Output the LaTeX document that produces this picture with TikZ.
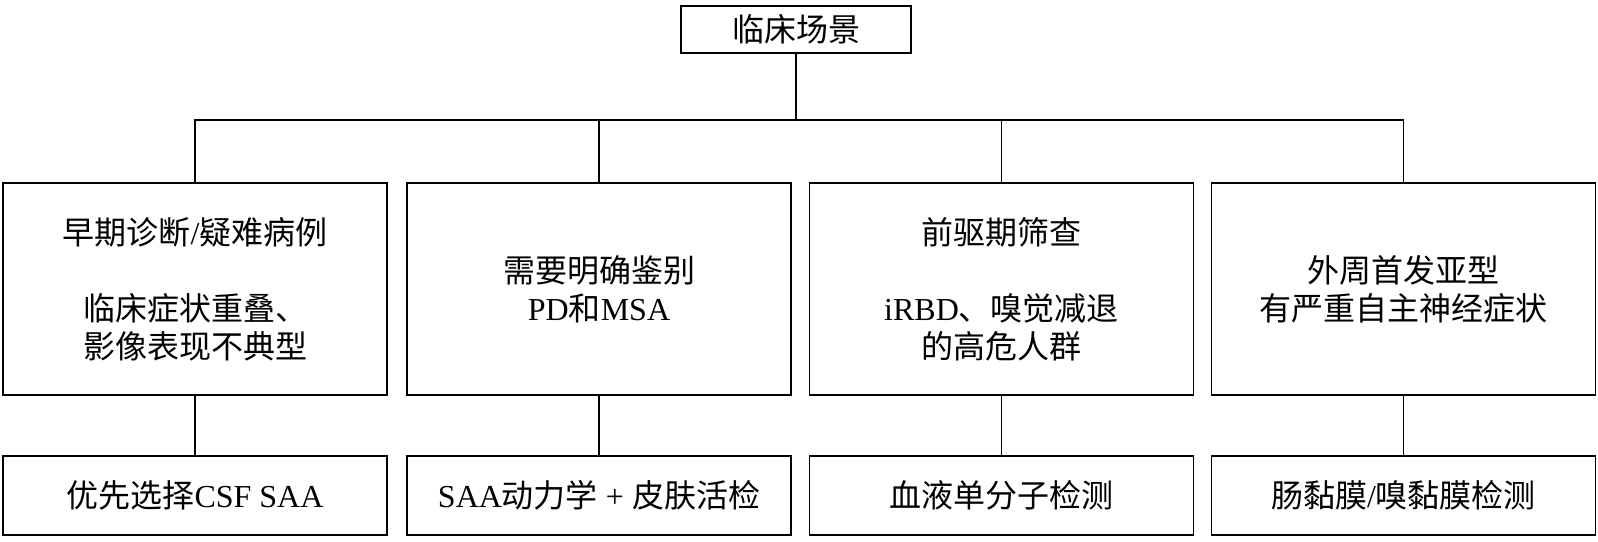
\documentclass[tikz,border=0pt]{standalone}
\usepackage{fontspec}
\setmainfont{Liberation Serif}
\newfontfamily\cjk{Noto Sans CJK SC}
\newcommand\enx[1]{{\rmfamily #1}}
\begin{document}
\begin{tikzpicture}[x=1pt,y=-1pt,
  box/.style={draw,line width=1.6pt,inner sep=0pt,align=center,
    font=\cjk\fontsize{32}{38}\selectfont},
  topbox/.style={box,minimum width=230pt,minimum height=47pt},
  midbox/.style={box,minimum width=384pt,minimum height=212pt},
  lowbox/.style={box,minimum width=384pt,minimum height=79pt},
  link/.style={line width=1.6pt}]
\useasboundingbox (0,0) rectangle (1598,541);
\node[topbox] (top) at (796,29.5) {临床场景};
\node[midbox] (b1) at (195,289) {早期诊断\enx{/}疑难病例\\[38pt]临床症状重叠、\\影像表现不典型};
\node[midbox] (b2) at (599,289) {需要明确鉴别\\\enx{PD}和\enx{MSA}};
\node[midbox] (b3) at (1001.5,289) {前驱期筛查\\[38pt]\enx{iRBD}、嗅觉减退\\的高危人群};
\node[midbox] (b4) at (1403.5,289) {外周首发亚型\\有严重自主神经症状};
\node[lowbox] (c1) at (195,495.5) {优先选择\enx{CSF SAA}};
\node[lowbox] (c2) at (599,495.5) {\enx{SAA}动力学\enx{ + }皮肤活检};
\node[lowbox] (c3) at (1001.5,495.5) {血液单分子检测};
\node[lowbox] (c4) at (1403.5,495.5) {肠黏膜\enx{/}嗅黏膜检测};
\coordinate (bus) at (0,120);
\draw[link] (top.south) -- (top.south |- bus);
\draw[link] (b1.north) -- (b1.north |- bus) -- (b4.north |- bus) -- (b4.north);
\draw[link] (b2.north) -- (b2.north |- bus);
\draw[link] (b3.north) -- (b3.north |- bus);
\draw[link] (b1.south) -- (c1.north);
\draw[link] (b2.south) -- (c2.north);
\draw[link] (b3.south) -- (c3.north);
\draw[link] (b4.south) -- (c4.north);
\end{tikzpicture}
\end{document}
